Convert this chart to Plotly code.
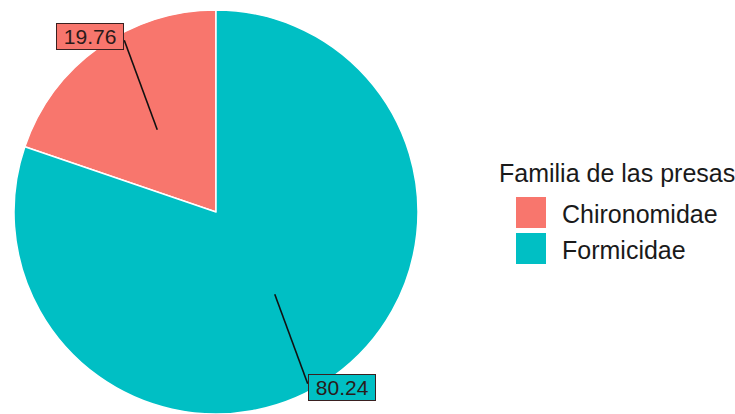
import math
import plotly.graph_objects as go

# ---- data ----
categories = ["Chironomidae", "Formicidae"]
values = [19.76, 80.24]
label_texts = ["19.76", "80.24"]
colors = ["#F8766D", "#00BFC4"]
legend_title = "Familia de las presas"

# ---- layout constants (pixels) ----
W, H = 735, 414
R = 202
cx, cy = 216, H - R  # pie centre in screen pixels (y downward)
FONT = "Liberation Sans, Arial, sans-serif"


def px(x):
    return x / W


def py(y):
    return 1 - y / H


total = sum(values)

fig = go.Figure(
    go.Pie(
        labels=categories,
        values=values,
        sort=False,
        direction="counterclockwise",
        rotation=-values[0] / total * 360,
        marker=dict(colors=colors, line=dict(color="white", width=1.5)),
        textinfo="none",
        hoverinfo="label+value",
        domain=dict(x=[px(cx - R), px(cx + R)], y=[0, 2 * R / H]),
        showlegend=False,
    )
)

shapes = []
annotations = []
cum = 0.0
for cat, v, txt, col in zip(categories, values, label_texts, colors):
    mid = math.radians((cum + v / 2) / total * 360)
    cum += v
    dx, dy = -math.sin(mid), -math.cos(mid)
    ix, iy = cx + 0.5 * R * dx, cy + 0.5 * R * dy
    lx, ly = cx + 1.07 * R * dx, cy + 1.07 * R * dy
    sx = 1 if ix > lx else -1
    sy = 1 if iy > ly else -1
    ex, ey = lx + sx * 34, ly + sy * 4
    shapes.append(dict(type="line", xref="paper", yref="paper",
                       x0=px(ix), y0=py(iy), x1=px(ex), y1=py(ey),
                       line=dict(color="#111111", width=1.6)))
    annotations.append(dict(xref="paper", yref="paper", x=px(lx), y=py(ly),
                            text="&nbsp;" + txt + "&nbsp;", showarrow=False,
                            xanchor="center", yanchor="middle",
                            font=dict(family=FONT, size=21, color="#2a1a1a"),
                            bgcolor=col, bordercolor="#3a2020", borderwidth=1, borderpad=1))

# custom legend
annotations.append(dict(xref="paper", yref="paper", x=px(497), y=py(172.5), text=legend_title,
                        showarrow=False, xanchor="left", yanchor="middle",
                        font=dict(family=FONT, size=25, color="#1a1a1a")))
for i, (cat, col) in enumerate(zip(categories, colors)):
    y0 = 197 + i * 36
    shapes.append(dict(type="rect", xref="paper", yref="paper",
                       x0=px(516), x1=px(546), y0=py(y0), y1=py(y0 + 31),
                       fillcolor=col, line=dict(width=0)))
    annotations.append(dict(xref="paper", yref="paper", x=px(560), y=py(y0 + 17), text=cat,
                            showarrow=False, xanchor="left", yanchor="middle",
                            font=dict(family=FONT, size=25, color="#1a1a1a")))

fig.update_layout(
    width=W, height=H,
    margin=dict(l=0, r=0, t=0, b=0),
    paper_bgcolor="white", plot_bgcolor="white",
    shapes=shapes, annotations=annotations,
)

fig.write_html("out.html")
